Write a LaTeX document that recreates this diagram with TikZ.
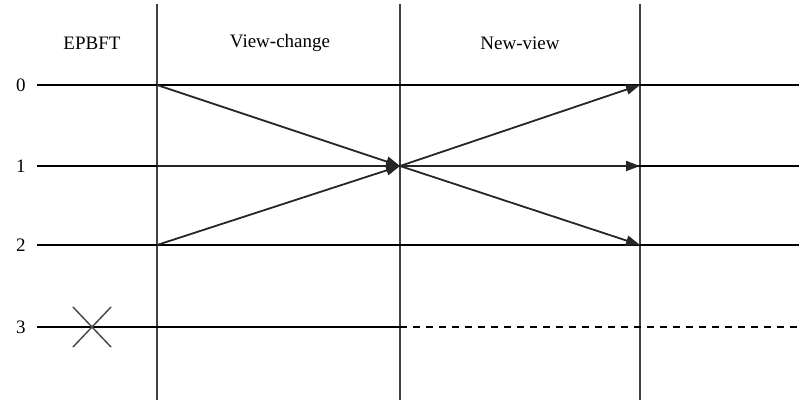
\documentclass[tikz,border=0pt]{standalone}
\usepackage{fontspec}
\setmainfont{Liberation Serif}
\usetikzlibrary{arrows.meta}
\begin{document}
\begin{tikzpicture}[x=1pt,y=-1pt,
  vline/.style={line width=2pt,draw=black!75},
  hline/.style={line width=2pt,draw=black},
  msg/.style={line width=1.8pt,draw=black!85,-{Triangle[length=14pt,width=10pt]}},
  lab/.style={font=\fontsize{19}{22}\selectfont,inner sep=0pt},
  cross/.style={line width=1.5pt,draw=black!70}]
\useasboundingbox (0,0) rectangle (799,402);
% vertical lines
\coordinate (v1t) at (157,4); \coordinate (v1b) at (157,400);
\coordinate (v2t) at (400,4); \coordinate (v2b) at (400,400);
\coordinate (v3t) at (640,4); \coordinate (v3b) at (640,400);
\draw[vline] (v1t) -- (v1b);
\draw[vline] (v2t) -- (v2b);
\draw[vline] (v3t) -- (v3b);
% headers
\node[lab] (h0) at (92,43) {EPBFT};
\node[lab] (h1) at (280,43) {View-change};
\node[lab] (h2) at (520,43) {New-view};
% row labels
\node[lab] (r0) at (21,85) {0};
\node[lab] (r1) at (21,166) {1};
\node[lab] (r2) at (21,245) {2};
\node[lab] (r3) at (21,327) {3};
% row coordinates
\foreach \i/\y in {0/85,1/166,2/245,3/327}{
  \coordinate (s\i) at (37,\y);
  \coordinate (a\i) at (157,\y);
  \coordinate (b\i) at (400,\y);
  \coordinate (c\i) at (640,\y);
  \coordinate (e\i) at (799,\y);
}
\draw[hline] (s0) -- (e0);
\draw[hline] (s1) -- (e1);
\draw[hline] (s2) -- (e2);
\draw[hline] (s3) -- (b3);
\draw[hline,dashed,dash pattern=on 7pt off 6pt] (b3) -- (e3);
% messages
\draw[msg] (a0) -- (b1);
\draw[msg] (a1) -- (b1);
\draw[msg] (a2) -- (b1);
\draw[msg] (b1) -- (c0);
\draw[msg] (b1) -- (c1);
\draw[msg] (b1) -- (c2);
% cross
\coordinate (x1) at (73,307); \coordinate (x2) at (111,347);
\coordinate (x3) at (111,307); \coordinate (x4) at (73,347);
\draw[cross] (x1) -- (x2);
\draw[cross] (x3) -- (x4);
\end{tikzpicture}
\end{document}
